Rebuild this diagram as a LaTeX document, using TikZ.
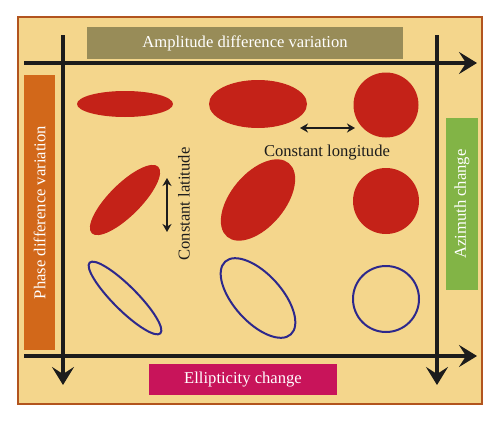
\documentclass[tikz,border=0pt]{standalone}
\usepackage{fontspec}
\setmainfont{Liberation Serif}
\usetikzlibrary{arrows.meta}

\definecolor{framefill}{RGB}{244,214,140}
\definecolor{frameedge}{RGB}{178,84,30}
\definecolor{axisdark}{RGB}{28,28,28}
\definecolor{ampbox}{RGB}{152,140,88}
\definecolor{phasebox}{RGB}{210,104,26}
\definecolor{azibox}{RGB}{130,180,70}
\definecolor{ellipbox}{RGB}{200,20,90}
\definecolor{polred}{RGB}{196,34,24}
\definecolor{polblue}{RGB}{45,40,140}

\tikzset{
  axisline/.style={line width=3.2pt,draw=axisdark,-{Stealth[length=18pt,width=22pt,inset=7pt]}},
  twoway/.style={line width=1.6pt,draw=axisdark,{Stealth[length=8pt,width=9pt,inset=2.5pt]}-{Stealth[length=8pt,width=9pt,inset=2.5pt]}},
  labelbox/.style={fill=#1,text=white,inner sep=0pt,font=\fontsize{16.6}{19}\selectfont},
  filledell/.style={fill=polred},
  openell/.style={draw=polblue,line width=2pt},
  note/.style={text=axisdark,font=\fontsize{16.6}{19}\selectfont}
}

\begin{document}
\begin{tikzpicture}[x=1pt,y=-1pt]
\useasboundingbox (0,0) rectangle (500,423);
\filldraw[fill=framefill,draw=frameedge,line width=2pt] (18,17) rectangle (482,404);

% label boxes
\node (amp) at (245,43) [labelbox=ampbox,minimum width=316pt,minimum height=32pt] {Amplitude difference variation};
\node (phase) at (39.5,212.5) [labelbox=phasebox,rotate=90,minimum width=275pt,minimum height=31pt] {Phase difference variation};
\node (azi) at (462,204) [labelbox=azibox,rotate=90,minimum width=172pt,minimum height=32pt] {Azimuth change};
\node (ellip) at (243,379.5) [labelbox=ellipbox,minimum width=188pt,minimum height=31pt] {Ellipticity change};

% axes
\coordinate (topL) at (24,63);
\coordinate (topR) at (477,63);
\coordinate (botL) at (24,356);
\coordinate (botR) at (477,356);
\coordinate (leftT) at (63,35);
\coordinate (leftB) at (63,385);
\coordinate (rightT) at (437,35);
\coordinate (rightB) at (437,385);
\draw[axisline] (topL) -- (topR);
\draw[axisline] (botL) -- (botR);
\draw[axisline] (leftT) -- (leftB);
\draw[axisline] (rightT) -- (rightB);

% polarisation ellipses
\fill[filledell] (125,104) ellipse [x radius=48,y radius=13];
\fill[filledell] (258,104) ellipse [x radius=49,y radius=24];
\fill[filledell] (386,105) circle [radius=32.5];
\fill[filledell,rotate around={45:(125,200)}] (125,200) ellipse [x radius=47,y radius=16];
\fill[filledell,rotate around={50:(258,200)}] (258,200) ellipse [x radius=48,y radius=27];
\fill[filledell] (386,201) circle [radius=33];
\draw[openell,rotate around={-45:(125,298)}] (125,298) ellipse [x radius=50,y radius=12];
\draw[openell,rotate around={-48:(258,298)}] (258,298) ellipse [x radius=49,y radius=24];
\draw[openell] (386,299) circle [radius=33];

% constant directions
\coordinate (lonL) at (300,128);
\coordinate (lonR) at (355,128);
\coordinate (latT) at (167,178);
\coordinate (latB) at (167,232);
\draw[twoway] (lonL) -- (lonR);
\draw[twoway] (latT) -- (latB);
\node (lon) at (327,153) [note] {Constant longitude};
\node (lat) at (184,204) [note,rotate=90] {Constant latitude};

\end{tikzpicture}
\end{document}
